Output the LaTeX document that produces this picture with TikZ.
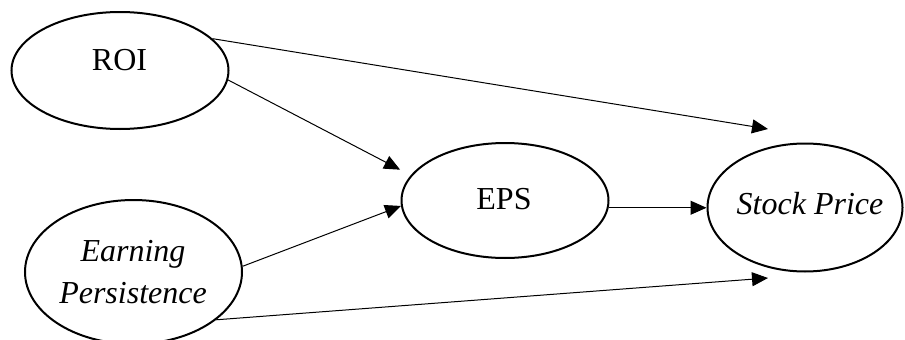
\documentclass[tikz,border=0pt]{standalone}
\usepackage{fontspec}
\setmainfont{Liberation Serif}
\usetikzlibrary{shapes.geometric,arrows.meta}
\begin{document}
\begin{tikzpicture}[x=1pt,y=-1pt,
  oval/.style={draw,ellipse,line width=2pt,inner sep=0pt},
  lbl/.style={inner sep=0pt,anchor=base,font=\fontsize{32}{42}\selectfont},
  arr/.style={line width=1pt,-{Triangle[length=16pt,width=14pt]}}]
\useasboundingbox (0,0) rectangle (905,340);
\node[oval,minimum width=217pt,minimum height=117pt] (roi) at (120,70.5) {};
\node[oval,minimum width=217pt,minimum height=144pt] (ep) at (133.5,272) {};
\node[oval,minimum width=207pt,minimum height=115pt] (eps) at (505,200.5) {};
\node[oval,minimum width=195pt,minimum height=128pt] (sp) at (805,207.5) {};
\node[lbl] (roitxt) at (119.5,70) {ROI};
\node[lbl] (epstxt) at (504,209) {EPS};
\node[lbl] (sptxt) at (810,214) {\itshape Stock Price};
\node[lbl] (eptxta) at (133,261) {\itshape Earning};
\node[lbl] (eptxtb) at (133,303) {\itshape Persistence};
\coordinate (tipa) at (768,129);
\coordinate (tipb) at (768,278);
\draw[arr] (roi.19.5) -- (tipa);
\draw[arr,shorten >=12pt] (roi.-5) -- (eps.165);
\draw[arr] (ep.3) -- (eps.183.6);
\draw[arr] (eps.-4) -- (eps.-4 -| sp.west);
\draw[arr] (ep.-30.4) -- (tipb);
\end{tikzpicture}
\end{document}
